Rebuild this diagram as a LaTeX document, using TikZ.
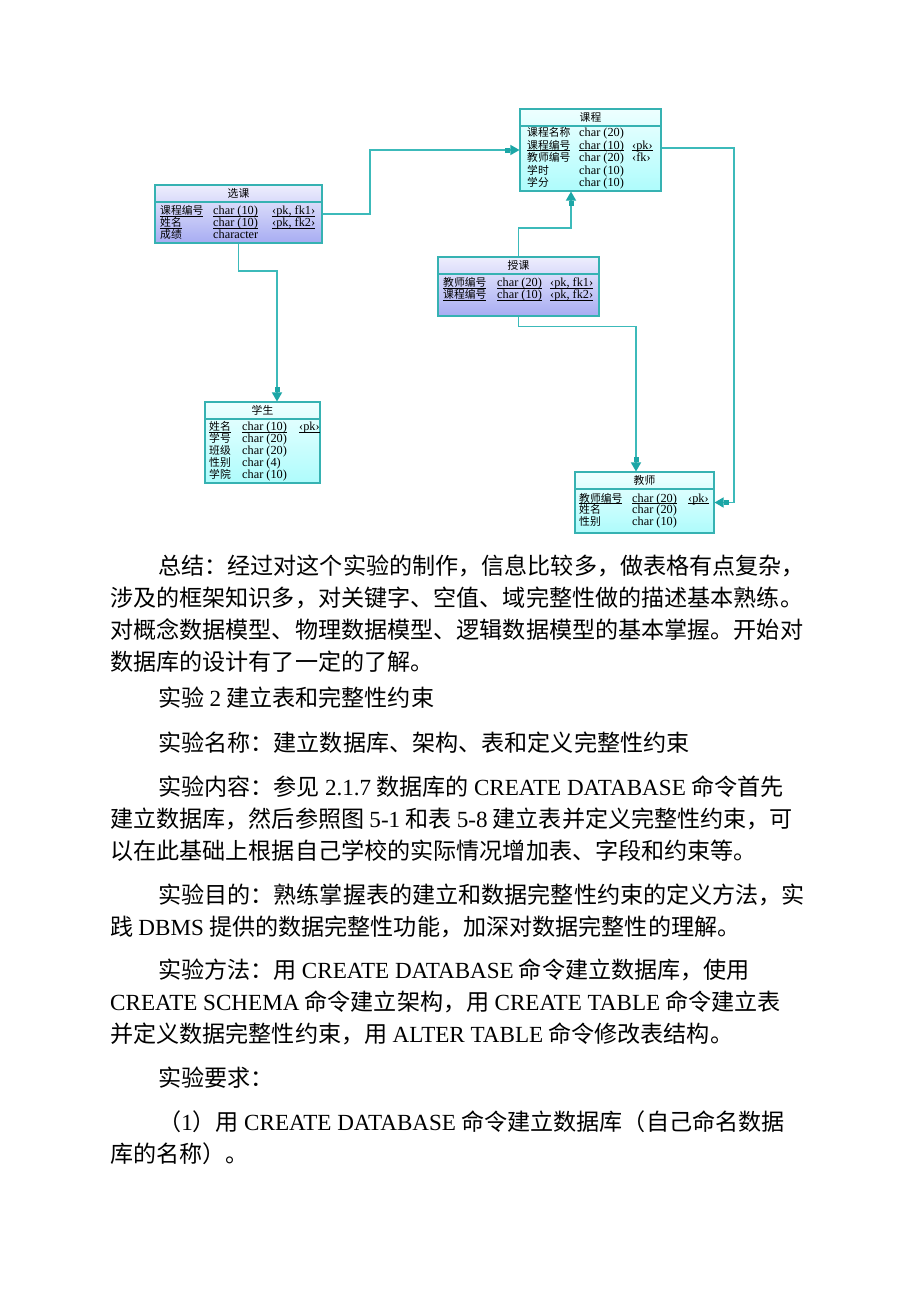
\documentclass[tikz,border=0pt]{standalone}
\usepackage{fontspec}
\usepackage{array}
\setmainfont{Noto Sans CJK SC}
\newfontfamily\en{Liberation Serif}
\usetikzlibrary{arrows.meta}

\definecolor{pdline}{HTML}{3CBABA}
\definecolor{pdtip}{HTML}{1CA6A6}
\definecolor{pdedge}{HTML}{36B2B2}
\definecolor{lavtop}{HTML}{EEEEFD}
\definecolor{lavbot}{HTML}{A7ACF2}
\definecolor{cyantop}{HTML}{EEFFFF}
\definecolor{cyanbot}{HTML}{AEFCFC}

% table cells: fixed width, no height or depth, so rows follow the strut only
\newbox\cellbox
\newbox\ulbox
\newcolumntype{N}[1]{>{\setbox\cellbox=\hbox to #1\bgroup}l<{\hfil\egroup\ht\cellbox=0pt\dp\cellbox=0pt\box\cellbox}}
\newcolumntype{T}[1]{>{\setbox\cellbox=\hbox to #1\bgroup\en\fontsize{12.3}{12}\selectfont}l<{\hfil\egroup\ht\cellbox=0pt\dp\cellbox=0pt\box\cellbox}}
\newcolumntype{K}{>{\setbox\cellbox=\hbox\bgroup\en\fontsize{12.3}{12}\selectfont}l<{\egroup\ht\cellbox=0pt\dp\cellbox=0pt\box\cellbox}}
% key underline, close under the baseline
\newcommand\ul[1]{\setbox\ulbox=\hbox{#1}\rlap{\rule[-1.9pt]{\wd\ulbox}{0.7pt}}\box\ulbox}

\tikzset{
  entity/.style={draw=pdedge, line width=1.1pt, inner sep=0pt},
  lav entity/.style={entity, top color=lavtop, bottom color=lavbot},
  aqua entity/.style={entity, top color=cyantop, bottom color=cyanbot},
  headrule/.style={draw=pdedge, line width=1.1pt},
  enttitle/.style={inner sep=0pt, font=\fontsize{10.8}{12}\selectfont},
  entrows/.style={anchor=north west, inner sep=0pt, font=\fontsize{10.8}{#1}\selectfont},
  entrows/.default=12,
  fk/.style={draw=pdline, line width=1.4pt,
    -{Rectangle[length=5pt,width=5pt,color=pdtip]Triangle[length=9pt,width=10pt,color=pdtip]}},
  textline/.style={anchor=base west, inner sep=0pt, font=\fontsize{23.1}{28}\selectfont},
}

\begin{document}
\begin{tikzpicture}[x=1pt,y=-1pt]
\fill[white] (0,0) rectangle (920,1302);
\useasboundingbox (0,0) rectangle (920,1302);

% entities
\node[lav entity, minimum width=167pt, minimum height=58pt] (xuanke) at (238.5,214) {};
\node[aqua entity, minimum width=141pt, minimum height=82pt] (kecheng) at (590.5,150) {};
\node[lav entity, minimum width=161pt, minimum height=59pt] (shouke) at (518.5,286.5) {};
\node[aqua entity, minimum width=115pt, minimum height=81pt] (xuesheng) at (262.5,442.5) {};
\node[aqua entity, minimum width=139pt, minimum height=61pt] (jiaoshi) at (644.5,502.5) {};

\foreach \e in {xuanke,kecheng,shouke,xuesheng,jiaoshi}
  \draw[headrule] ([yshift=-17.5pt]\e.north west) -- ([yshift=-17.5pt]\e.north east);

\node[enttitle] (xuankeT) at ([yshift=-9pt]xuanke.north) {选课};
\node[enttitle] (kechengT) at ([yshift=-9pt]kecheng.north) {课程};
\node[enttitle] (shoukeT) at ([yshift=-9pt]shouke.north) {授课};
\node[enttitle] (xueshengT) at ([yshift=-9pt]xuesheng.north) {学生};
\node[enttitle] (jiaoshiT) at ([yshift=-9pt]jiaoshi.north) {教师};

% columns
\node[entrows=11.7] (xuankeR) at (160,206.3) {%
  \begin{tabular}{@{}N{53pt}@{}T{59pt}@{}K@{}}
  \ul{课程编号} & \ul{char (10)} & \ul{‹pk, fk1›}\\
  \ul{姓名} & \ul{char (10)} & \ul{‹pk, fk2›}\\
  成绩 & character & \\
  \end{tabular}};
\node[entrows=12.5] (kechengR) at (527,127.7) {%
  \begin{tabular}{@{}N{52pt}@{}T{53pt}@{}K@{}}
  课程名称 & char (20) & \\
  \ul{课程编号} & \ul{char (10)} & \ul{‹pk›}\\
  教师编号 & char (20) & ‹fk›\\
  学时 & char (10) & \\
  学分 & char (10) & \\
  \end{tabular}};
\node[entrows=12] (shoukeR) at (443,277.8) {%
  \begin{tabular}{@{}N{54pt}@{}T{53pt}@{}K@{}}
  \ul{教师编号} & \ul{char (20)} & \ul{‹pk, fk1›}\\
  \ul{课程编号} & \ul{char (10)} & \ul{‹pk, fk2›}\\
  \end{tabular}};
\node[entrows=12] (xueshengR) at (209,422) {%
  \begin{tabular}{@{}N{33pt}@{}T{57pt}@{}K@{}}
  \ul{姓名} & \ul{char (10)} & \ul{‹pk›}\\
  学号 & char (20) & \\
  班级 & char (20) & \\
  性别 & char (4) & \\
  学院 & char (10) & \\
  \end{tabular}};
\node[entrows=11.6] (jiaoshiR) at (579,493.8) {%
  \begin{tabular}{@{}N{53pt}@{}T{56pt}@{}K@{}}
  \ul{教师编号} & \ul{char (20)} & \ul{‹pk›}\\
  姓名 & char (20) & \\
  性别 & char (10) & \\
  \end{tabular}};

% references
\coordinate (k1) at (370,150);
\coordinate (k2) at (277,271);
\coordinate (k3) at (571,228);
\coordinate (k4) at (636,326.5);
\coordinate (k5) at (734,148);
\draw[fk] (xuanke.east) -| (k1) -- (kecheng.west);
\draw[fk] (xuanke.south) |- (k2) -- (k2 |- xuesheng.north);
\draw[fk] (shouke.north) |- (k3) -- (k3 |- kecheng.south);
\draw[fk] (shouke.south) |- (k4) -- (k4 |- jiaoshi.north);
\draw[fk] (k5 -| kecheng.east) -- (k5) |- (jiaoshi.east);

% text
\node[textline] (l1) at (158,574.5) {总结：经过对这个实验的制作，信息比较多，做表格有点复杂，};
\node[textline] (l2) at (110,606.5) {涉及的框架知识多，对关键字、空值、域完整性做的描述基本熟练。};
\node[textline] (l3) at (110,638.5) {对概念数据模型、物理数据模型、逻辑数据模型的基本掌握。开始对};
\node[textline] (l4) at (110,670.5) {数据库的设计有了一定的了解。};
\node[textline] (l5) at (158,706.5) {实验 {\en 2} 建立表和完整性约束};
\node[textline] (l6) at (158,751.5) {实验名称：建立数据库、架构、表和定义完整性约束};
\node[textline] (l7) at (158,795.5) {实验内容：参见 {\en 2.1.7} 数据库的 {\en CREATE DATABASE} 命令首先};
\node[textline] (l8) at (110,827.5) {建立数据库，然后参照图 {\en 5-1} 和表 {\en 5-8} 建立表并定义完整性约束，可};
\node[textline] (l9) at (110,859.5) {以在此基础上根据自己学校的实际情况增加表、字段和约束等。};
\node[textline] (l10) at (158,903.5) {实验目的：熟练掌握表的建立和数据完整性约束的定义方法，实};
\node[textline] (l11) at (110,935.5) {践 {\en DBMS} 提供的数据完整性功能，加深对数据完整性的理解。};
\node[textline] (l12) at (158,978.5) {实验方法：用 {\en CREATE DATABASE} 命令建立数据库，使用};
\node[textline] (l13) at (110,1010.5) {{\en CREATE SCHEMA} 命令建立架构，用 {\en CREATE TABLE} 命令建立表};
\node[textline] (l14) at (110,1042.5) {并定义数据完整性约束，用 {\en ALTER TABLE} 命令修改表结构。};
\node[textline] (l15) at (158,1086.5) {实验要求：};
\node[textline] (l16) at (158,1130.5) {（{\en 1}）用 {\en CREATE DATABASE} 命令建立数据库（自己命名数据};
\node[textline] (l17) at (110,1162.5) {库的名称）。};
\end{tikzpicture}
\end{document}
